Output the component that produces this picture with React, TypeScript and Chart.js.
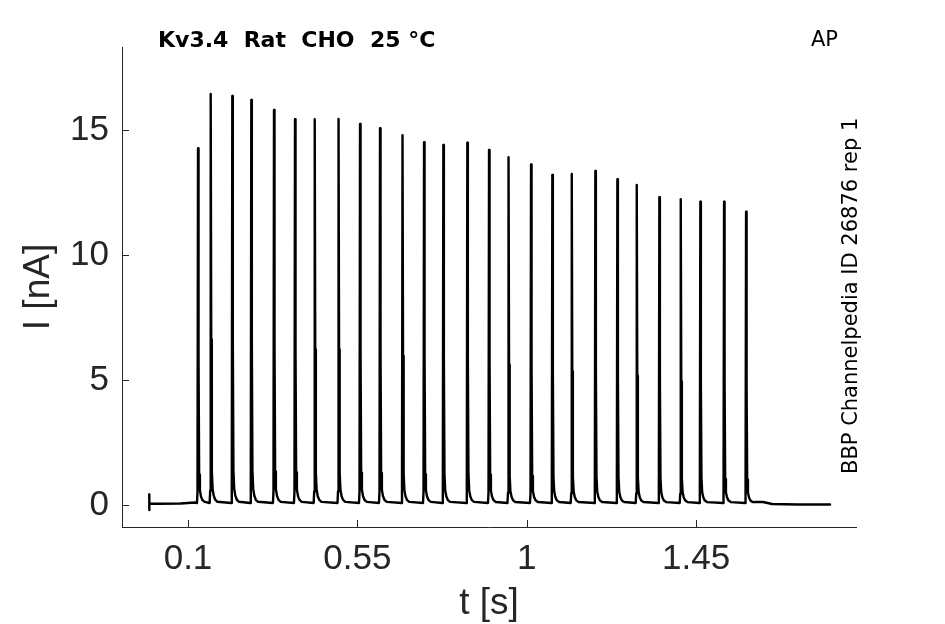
import { useEffect, useRef } from 'react';
import { Chart, registerables } from 'chart.js';

Chart.register(...registerables);

// spike train (time in s, peak current in nA)
const spikeTimes = [
  0.1266, 0.1603, 0.2177, 0.2682, 0.3285, 0.3843, 0.4367, 0.5, 0.5571, 0.6102,
  0.67, 0.7272, 0.7785, 0.8422, 0.8999, 0.9517, 1.0115, 1.0681, 1.1197, 1.1824,
  1.2409, 1.2924, 1.3525, 1.4093, 1.4614, 1.5244, 1.5829,
];
const spikePeaks = [
  14.27, 16.44, 16.36, 16.2, 15.8, 15.43, 15.43, 15.44, 15.24, 15.07, 14.79,
  14.51, 14.4, 14.49, 14.2, 13.91, 13.62, 13.2, 13.24, 13.36, 13.03, 12.8,
  12.31, 12.23, 12.13, 12.13, 11.73,
];

// shape of one spike: time from peak (s) and fraction of the peak height
const spikeShapeOffsets = [-0.0028, -0.0014, 0, 0.0014, 0.003, 0.005, 0.008, 0.012, 0.018];
const spikeShapeFractions = [0, 0.03, 1, 0.4, 0.08, 0.035, 0.018, 0.008, 0.003];
const interSpikeBaseline = 0.08;

// trace before the first and after the last spike
const leadTimes = [-0.003, -0.003, -0.0025, 0.02, 0.08, 0.118];
const leadCurrents = [0.42, -0.2, 0.06, 0.05, 0.06, 0.1];
const tailTimes = [1.61, 1.628, 1.64, 1.652, 1.72, 1.806];
const tailCurrents = [0.12, 0.12, 0.08, 0.04, 0.02, 0.02];

const xTicks = [0.1, 0.55, 1, 1.45];
const xTickLabels = ['0.1', '0.55', '1', '1.45'];
const yTicks = [0, 5, 10, 15];

const titleText = 'Kv3.4  Rat  CHO  25 °C';
const protocolText = 'AP';
const sourceText = 'BBP Channelpedia ID 26876 rep 1';

const AXIS = '#262626';

function buildTrace() {
  const pts: { x: number; y: number }[] = [];
  leadTimes.forEach((t, i) => pts.push({ x: t, y: leadCurrents[i] }));
  spikeTimes.forEach((t, i) => {
    spikeShapeOffsets.forEach((dt, j) => {
      const f = spikeShapeFractions[j];
      pts.push({ x: t + dt, y: interSpikeBaseline + f * (spikePeaks[i] - interSpikeBaseline) });
    });
  });
  tailTimes.forEach((t, i) => pts.push({ x: t, y: tailCurrents[i] }));
  return pts;
}

const inwardTicks = {
  id: 'inwardTicks',
  afterDraw(chart: any) {
    const { ctx, chartArea, scales } = chart;
    ctx.save();
    ctx.strokeStyle = AXIS;
    ctx.lineWidth = 1;
    ctx.beginPath();
    xTicks.forEach((v) => {
      const x = Math.round(scales.x.getPixelForValue(v)) + 0.5;
      ctx.moveTo(x, chartArea.bottom);
      ctx.lineTo(x, chartArea.bottom - 7);
    });
    yTicks.forEach((v) => {
      const y = Math.round(scales.y.getPixelForValue(v)) + 0.5;
      ctx.moveTo(chartArea.left, y);
      ctx.lineTo(chartArea.left + 7, y);
    });
    ctx.stroke();

    ctx.fillStyle = '#000';
    ctx.textBaseline = 'alphabetic';
    ctx.textAlign = 'left';
    ctx.font = 'bold 22px "DejaVu Sans"';
    ctx.fillText(titleText, 158, 47);
    ctx.font = '21px "DejaVu Sans"';
    ctx.fillText(protocolText, 811, 46);
    ctx.translate(857, 474);
    ctx.rotate(-Math.PI / 2);
    ctx.fillText(sourceText, 0, 0);
    ctx.restore();
  },
};

export default function App() {
  const canvasRef = useRef<HTMLCanvasElement>(null);

  useEffect(() => {
    if (!canvasRef.current) return;
    const chart = new Chart(canvasRef.current, {
      type: 'line',
      data: {
        datasets: [
          {
            data: buildTrace(),
            borderColor: '#000',
            borderWidth: 2.4,
            borderJoinStyle: 'round',
            borderCapStyle: 'round',
            pointRadius: 0,
            tension: 0,
            fill: false,
          },
        ],
      },
      options: {
        responsive: false,
        animation: false,
        layout: { padding: { left: 0, top: 47, right: 89, bottom: 0 } },
        plugins: { legend: { display: false }, tooltip: { enabled: false } },
        scales: {
          x: {
            type: 'linear',
            min: -0.0754,
            max: 1.875,
            afterBuildTicks: (s: any) => {
              s.ticks = xTicks.map((v) => ({ value: v }));
            },
            afterFit: (s: any) => {
              s.height = 97;
            },
            grid: { display: false, drawTicks: false },
            border: { display: true, color: AXIS, width: 1 },
            ticks: {
              autoSkip: false,
              maxRotation: 0,
              padding: 11,
              color: AXIS,
              font: { family: '"Liberation Sans"', size: 35 },
              callback: (v: any) => xTickLabels[xTicks.indexOf(Number(v))] ?? '',
            },
            title: {
              display: true,
              text: 't [s]',
              color: AXIS,
              font: { family: '"Liberation Sans"', size: 37 },
              padding: { top: 0, bottom: -2 },
            },
          },
          y: {
            type: 'linear',
            min: -0.88,
            max: 18.32,
            afterBuildTicks: (s: any) => {
              s.ticks = yTicks.map((v) => ({ value: v }));
            },
            afterFit: (s: any) => {
              s.width = 122;
            },
            grid: { display: false, drawTicks: false },
            border: { display: true, color: AXIS, width: 1 },
            ticks: {
              padding: 13,
              color: AXIS,
              font: { family: '"Liberation Sans"', size: 35 },
            },
            title: {
              display: true,
              text: 'I [nA]',
              color: AXIS,
              font: { family: '"Liberation Sans"', size: 37 },
              padding: { top: 17, bottom: 0 },
            },
          },
        },
      },
      plugins: [inwardTicks],
    });
    return () => chart.destroy();
  }, []);

  return (
    <div style={{ position: 'fixed', left: 0, top: 0, width: 945, height: 624, background: '#fff' }}>
      <canvas ref={canvasRef} width={945} height={624} />
    </div>
  );
}
